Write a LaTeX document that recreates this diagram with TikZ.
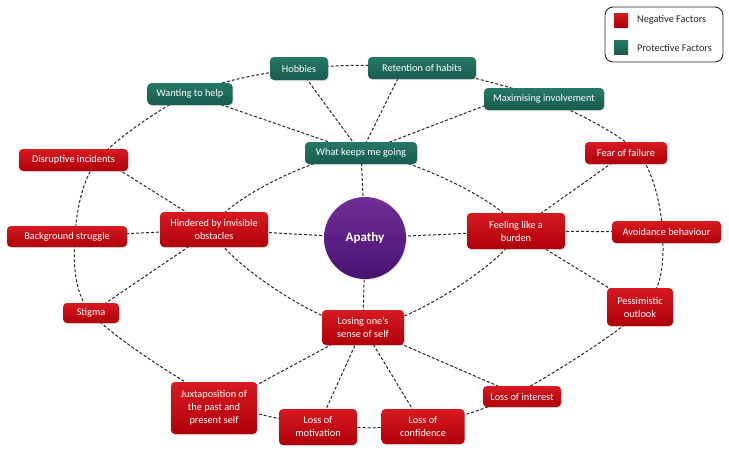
\documentclass[tikz,border=0pt]{standalone}
\usepackage{fontspec}
\setmainfont{Carlito}
\usetikzlibrary{backgrounds,shadows,calc}
\definecolor{redtop}{RGB}{214,26,32}
\definecolor{redbot}{RGB}{176,0,10}
\definecolor{grntop}{RGB}{38,120,102}
\definecolor{grnbot}{RGB}{24,92,78}
\definecolor{purtop}{RGB}{112,46,152}
\definecolor{purbot}{RGB}{72,18,112}
\begin{document}
\begin{tikzpicture}[x=1pt,y=-1pt,
  factorbox/.style={rounded corners=4pt, text=white, font=\fontsize{10.3}{13}\selectfont, align=center, inner sep=0pt,
    drop shadow={opacity=0.25, shadow xshift=1pt, shadow yshift=-1pt}},
  negbox/.style={factorbox, top color=redtop, bottom color=redbot},
  posbox/.style={factorbox, top color=grntop, bottom color=grnbot},
  sz/.style 2 args={minimum width=#1pt, minimum height=#2pt},
  con/.style={draw=black!85, line width=1pt, dash pattern=on 3pt off 2pt},
  legtext/.style={anchor=west, text=black!85, font=\fontsize{10.3}{13}\selectfont, inner sep=0pt},
]
\useasboundingbox (0,0) rectangle (729,453);

% centre
\node[circle, minimum size=82pt, inner sep=0pt, top color=purtop, bottom color=purbot, text=white,
  font=\fontsize{13}{15}\selectfont\bfseries,
  drop shadow={opacity=0.25, shadow xshift=1pt, shadow yshift=-1pt}] (ap) at (365,238) {Apathy};

% inner ring
\node[posbox, sz={112}{22}] (wkg) at (361,153) {What keeps me going};
\node[negbox, sz={108}{35}] (hin) at (214,229.5) {Hindered by invisible\\obstacles};
\node[negbox, sz={98}{36}] (fel) at (516,231) {Feeling like a\\burden};
\node[negbox, sz={82}{35}] (los) at (363,327.5) {Losing one’s\\sense of self};

% outer ring
\node[posbox, sz={58}{23}] (hob) at (299,68.5) {Hobbies};
\node[posbox, sz={108}{22}] (ret) at (422,68) {Retention of habits};
\node[posbox, sz={85}{22}] (want) at (190,94) {Wanting to help};
\node[posbox, sz={120}{22}] (max) at (544,99) {Maximising involvement};
\node[negbox, sz={82}{22}] (fear) at (626,153) {Fear of failure};
\node[negbox, sz={109}{22}] (dis) at (73.5,160) {Disruptive incidents};
\node[negbox, sz={120}{21}] (bg) at (67,236.5) {Background struggle};
\node[negbox, sz={109}{22}] (avoid) at (666.5,232) {Avoidance behaviour};
\node[negbox, sz={56}{20}] (stig) at (91,313) {Stigma};
\node[negbox, sz={66}{38}] (pess) at (640,307) {Pessimistic\\outlook};
\node[negbox, sz={86}{52}] (jux) at (214,408) {Juxtaposition of\\the past and\\present self};
\node[negbox, sz={78}{36}] (lmot) at (318,427) {Loss of\\motivation};
\node[negbox, sz={83}{35}] (lconf) at (423,426.5) {Loss of\\confidence};
\node[negbox, sz={78}{21}] (lint) at (522,396.5) {Loss of interest};

% legend
\node[draw=black!85, line width=0.9pt, rounded corners=8pt, minimum width=118pt, minimum height=55pt, inner sep=0pt] (leg) at (664,34.5) {};
\node[minimum size=14pt, inner sep=0pt, top color=redtop, bottom color=redbot] (lr) at (621,20) {};
\node[minimum size=14pt, inner sep=0pt, top color=grntop, bottom color=grnbot] (lg) at (621,47.5) {};
\node[legtext] (lrt) at (637,20) {Negative Factors};
\node[legtext] (lgt) at (637,47.5) {Protective Factors};

\begin{scope}[on background layer]
  % inner ring
  \draw[con] plot[smooth cycle] coordinates {(wkg.center) (fel.center) (los.center) (hin.center)};
  % outer ring
  \draw[con] plot[smooth cycle] coordinates {
    (hob.center) (ret.center) (max.center) ($(fear.center)+(12,0)$) ($(avoid.center)+(-4,0)$)
    ($(pess.center)+(5,0)$) ($(lint.center)+(-5,-3)$) ($(lconf.center)+(0,-2)$) ($(lmot.center)+(0,-2)$)
    ($(jux.center)+(0,-10)$) (stig.center) ($(bg.center)+(8,0)$) ($(dis.center)+(24,0)$) (want.center)};
  % spokes
  \draw[con] (wkg.center) -- (ap.center);
  \draw[con] (wkg.center) -- (want.center);
  \draw[con] (wkg.center) -- (hob.center);
  \draw[con] (wkg.center) -- ($(ret.center)+(-19,0)$);
  \draw[con] (wkg.center) -- ($(max.west)+(0,7)$);
  \draw[con] (hin.center) -- (ap.center);
  \draw[con] (hin.center) -- ($(dis.center)+(30,0)$);
  \draw[con] (hin.center) -- (bg.center);
  \draw[con] (hin.center) -- (stig.center);
  \draw[con] (fel.center) -- (ap.center);
  \draw[con] (fel.center) -- (fear.center);
  \draw[con] (fel.center) -- (avoid.center);
  \draw[con] (fel.center) -- (pess.center);
  \draw[con] (los.center) -- (ap.center);
  \draw[con] (los.center) -- (jux.center);
  \draw[con] (los.center) -- (lmot.center);
  \draw[con] (los.center) -- (lconf.center);
  \draw[con] (los.center) -- (lint.center);
\end{scope}
\end{tikzpicture}
\end{document}
